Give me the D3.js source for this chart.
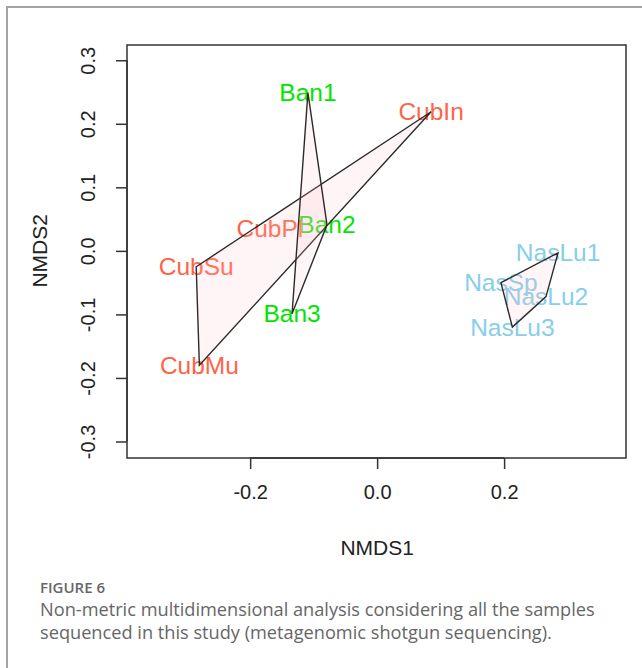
<!DOCTYPE html>
<html>
<head>
<meta charset="utf-8">
<script src="https://cdn.jsdelivr.net/npm/d3@7"></script>
<style>
  body { margin: 0; background: #fff; }
  svg { display: block; }
</style>
</head>
<body>
<div id="vis"></div>
<script>
// NMDS scores
var samples = ["Ban1", "Ban2", "Ban3", "CubIn", "CubPl", "CubSu", "CubMu", "NasLu1", "NasSp", "NasLu2", "NasLu3"];
var groups  = ["Ban", "Ban", "Ban", "Cub", "Cub", "Cub", "Cub", "Nas", "Nas", "Nas", "Nas"];
var nmds1   = [-0.109, -0.079, -0.134, 0.085, -0.169, -0.285, -0.280, 0.285, 0.195, 0.266, 0.213];
var nmds2   = [0.249, 0.041, -0.099, 0.219, 0.035, -0.025, -0.180, -0.003, -0.050, -0.072, -0.120];
var groupNames = ["Cub", "Ban", "Nas"];
var groupColors = ["#ff6347", "#00e600", "#87ceeb"];
var xTicks = [-0.2, 0.0, 0.2];
var yTicks = [-0.3, -0.2, -0.1, 0.0, 0.1, 0.2, 0.3];

function init()
{
  var W = 642, H = 668;
  var box = {left: 127, right: 626, top: 45, bottom: 458};

  var svg = d3.select("#vis").append("svg")
    .attr("width", W)
    .attr("height", H);

  // journal figure frame
  svg.append("path")
    .attr("d", "M7," + H + " L7,7 L" + W + ",7")
    .style("fill", "none")
    .style("stroke", "#a3a3a3")
    .style("stroke-width", 2);

  var xScale = d3.scaleLinear().domain([-0.394, 0.392]).range([box.left, box.right]);
  var yScale = d3.scaleLinear().domain([-0.326, 0.324]).range([box.bottom, box.top]);
  var color = d3.scaleOrdinal().domain(groupNames).range(groupColors);
  // R prints a plain hyphen as minus sign
  var fmt = function(v) {return d3.format(".1f")(v).replace("\u2212", "-");};

  var data = samples.map(function(s, i) {
    return {name: s, group: groups[i], x: nmds1[i], y: nmds2[i]};
  });

  // labels (ordiplot draws text first, hulls on top)
  svg.selectAll("text.site")
    .data(data)
    .enter()
    .append("text")
      .attr("class", "site")
      .attr("x", function(d) {return xScale(d.x);})
      .attr("y", function(d) {return yScale(d.y);})
      .attr("dy", "0.35em")
      .style("text-anchor", "middle")
      .style("font-family", "'Liberation Sans', Arial, sans-serif")
      .style("font-size", "24.5px")
      .style("fill", function(d) {return color(d.group);})
      .text(function(d) {return d.name;});

  // convex hulls per group
  groupNames.forEach(function(g) {
    var pts = data.filter(function(d) {return d.group === g;})
                  .map(function(d) {return [xScale(d.x), yScale(d.y)];});
    var hull = d3.polygonHull(pts);
    svg.append("path")
      .attr("d", "M" + hull.join("L") + "Z")
      .style("fill", "#ffc0cb")
      .style("fill-opacity", 0.18)
      .style("stroke", "#2b2b2b")
      .style("stroke-width", 1.4);
  });

  // plot box
  svg.append("rect")
    .attr("x", box.left)
    .attr("y", box.top)
    .attr("width", box.right - box.left)
    .attr("height", box.bottom - box.top)
    .style("fill", "none")
    .style("stroke", "#333")
    .style("stroke-width", 1.5);

  var xAxis = d3.axisBottom(xScale)
    .tickValues(xTicks)
    .tickFormat(fmt)
    .tickSize(11)
    .tickPadding(16);

  var gx = svg.append("g")
    .attr("transform", "translate(0," + box.bottom + ")")
    .call(xAxis);

  var yAxis = d3.axisLeft(yScale)
    .tickValues(yTicks)
    .tickFormat(fmt)
    .tickSize(11)
    .tickPadding(0);

  var gy = svg.append("g")
    .attr("transform", "translate(" + box.left + ",0)")
    .call(yAxis);

  [gx, gy].forEach(function(g) {
    g.select(".domain").style("stroke", "#333").style("stroke-width", 1.5);
    g.selectAll(".tick line").style("stroke", "#333").style("stroke-width", 1.5);
    g.selectAll(".tick text")
      .style("font-family", "'Liberation Sans', Arial, sans-serif")
      .style("font-size", "20px")
      .style("fill", "#222");
  });
  // R-style axis lines span the outer ticks only, box is drawn separately
  gx.select(".domain").attr("d", "M" + xScale(-0.2) + ",0H" + xScale(0.2));
  gy.select(".domain").attr("d", "M0," + yScale(0.3) + "V" + yScale(-0.3));

  // rotated y tick labels (las = 0)
  gy.selectAll(".tick text")
    .attr("x", null)
    .attr("transform", "translate(-39,0) rotate(-90)")
    .style("text-anchor", "middle")
    .attr("dy", "0.35em");

  svg.append("text")
    .attr("x", (xScale(-0.2) + xScale(0.2)) / 2)
    .attr("y", 548)
    .attr("dy", "0.35em")
    .style("text-anchor", "middle")
    .style("font-family", "'Liberation Sans', Arial, sans-serif")
    .style("font-size", "21px")
    .style("fill", "#222")
    .text("NMDS1");

  svg.append("text")
    .attr("transform", "translate(40," + yScale(0) + ") rotate(-90)")
    .attr("dy", "0.35em")
    .style("text-anchor", "middle")
    .style("font-family", "'Liberation Sans', Arial, sans-serif")
    .style("font-size", "21px")
    .style("fill", "#222")
    .text("NMDS2");

  // caption
  var cap = svg.append("g")
    .style("font-family", "'Open Sans', 'Noto Sans', sans-serif")
    .style("fill", "#666");

  cap.append("text")
    .attr("x", 40)
    .attr("y", 593)
    .style("font-size", "15px")
    .style("font-weight", 600)
    .text("FIGURE 6");

  cap.append("text")
    .attr("x", 40)
    .attr("y", 616)
    .style("font-size", "18.2px")
    .text("Non-metric multidimensional analysis considering all the samples");

  cap.append("text")
    .attr("x", 40)
    .attr("y", 639)
    .style("font-size", "18.2px")
    .text("sequenced in this study (metagenomic shotgun sequencing).");
}

window.onload = init();
</script>
</body>
</html>
